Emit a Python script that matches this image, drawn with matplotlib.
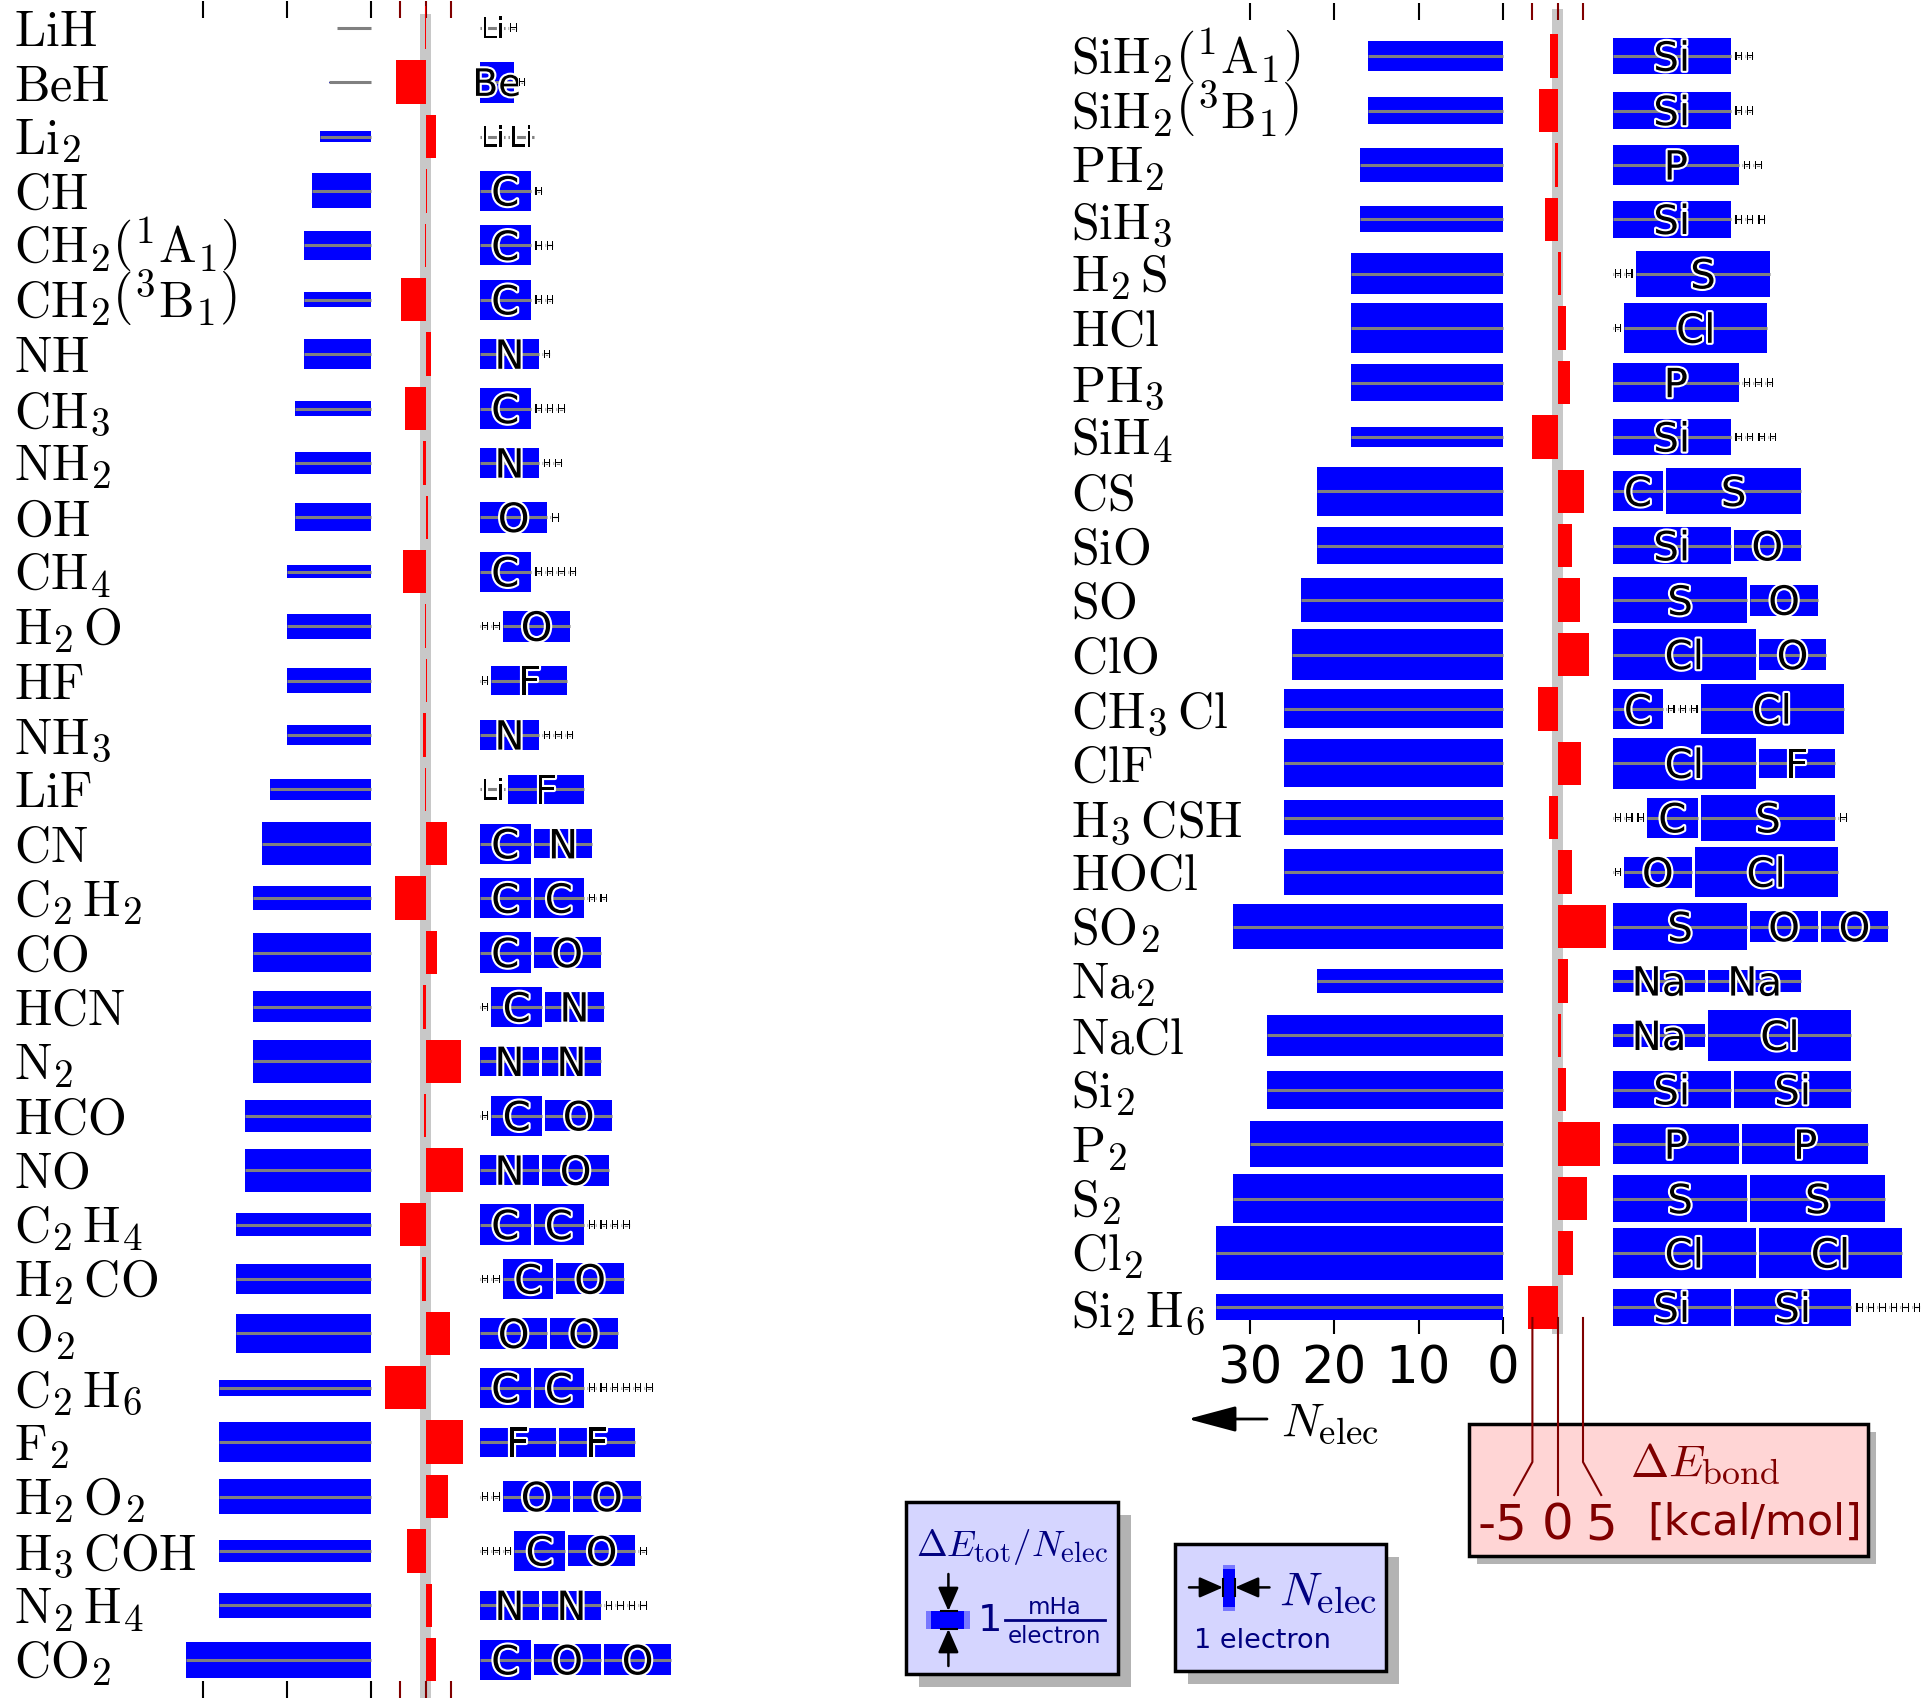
import numpy as np
import matplotlib
matplotlib.use('Agg')
import matplotlib.pyplot as plt
import matplotlib.patheffects as pe
import matplotlib.transforms as mtransforms
from matplotlib.patches import Rectangle, FancyArrowPatch
from matplotlib.lines import Line2D

try:
    import matplotlib._mathtext as _mt
    _mt.SHRINK_FACTOR = 0.78
except Exception:
    pass

plt.rcParams['mathtext.fontset'] = 'cm'
plt.rcParams['font.family'] = ['DejaVu Sans']

# ---------------- data ----------------
left_labels = [r'$\mathrm{LiH}$', r'$\mathrm{BeH}$', r'$\mathrm{Li}_2$', r'$\mathrm{CH}$',
               r'$\mathrm{CH}_2\left({}^1\mathrm{A}_1\right)$', r'$\mathrm{CH}_2\left({}^3\mathrm{B}_1\right)$',
               r'$\mathrm{NH}$', r'$\mathrm{CH}_3$', r'$\mathrm{NH}_2$', r'$\mathrm{OH}$', r'$\mathrm{CH}_4$',
               r'$\mathrm{H}_2\,\mathrm{O}$', r'$\mathrm{HF}$', r'$\mathrm{NH}_3$', r'$\mathrm{LiF}$', r'$\mathrm{CN}$',
               r'$\mathrm{C}_2\,\mathrm{H}_2$', r'$\mathrm{CO}$', r'$\mathrm{HCN}$', r'$\mathrm{N}_2$',
               r'$\mathrm{HCO}$', r'$\mathrm{NO}$', r'$\mathrm{C}_2\,\mathrm{H}_4$', r'$\mathrm{H}_2\,\mathrm{CO}$',
               r'$\mathrm{O}_2$', r'$\mathrm{C}_2\,\mathrm{H}_6$', r'$\mathrm{F}_2$', r'$\mathrm{H}_2\,\mathrm{O}_2$',
               r'$\mathrm{H}_3\,\mathrm{COH}$', r'$\mathrm{N}_2\,\mathrm{H}_4$', r'$\mathrm{CO}_2$']
left_comp = ["Li H", "Be H", "Li Li", "C H", "C H H", "C H H", "N H", "C H H H", "N H H", "O H",
             "C H H H H", "H H O", "H F", "N H H H", "Li F", "C N", "C C H H", "C O", "H C N", "N N",
             "H C O", "N O", "C C H H H H", "H H C O", "O O", "C C H H H H H H", "F F", "H H O O",
             "H H H C O H", "N N H H H H", "C O O"]
left_nelec = [4, 5, 6, 7, 8, 8, 8, 9, 9, 9, 10, 10, 10, 10, 12, 13, 14, 14, 14, 14, 15, 15,
              16, 16, 16, 18, 18, 18, 18, 18, 22]
left_dEtot = [0.0, 0.05, 0.59, 2.01, 1.67, 0.83, 1.67, 0.83, 1.24, 1.61, 0.71, 1.42, 1.46, 1.11,
              1.21, 2.44, 1.39, 2.23, 1.77, 2.45, 1.83, 2.45, 1.33, 1.73, 2.23, 0.90, 2.29, 1.95,
              1.27, 1.42, 2.04]
left_dEbond = [-0.2, -5.9, 2.1, 0.3, -0.2, -4.9, 1.0, -4.1, -0.6, 0.4, -4.5, -0.2, 0.2, -0.6,
               -0.2, 4.2, -6.1, 2.2, -0.6, 6.9, -0.4, 7.3, -5.1, -0.7, 4.8, -8.1, 7.3, 4.4, -3.7,
               1.2, 2.1]

right_labels = [r'$\mathrm{SiH}_2\left({}^1\mathrm{A}_1\right)$', r'$\mathrm{SiH}_2\left({}^3\mathrm{B}_1\right)$',
                r'$\mathrm{PH}_2$', r'$\mathrm{SiH}_3$', r'$\mathrm{H}_2\,\mathrm{S}$', r'$\mathrm{HCl}$',
                r'$\mathrm{PH}_3$', r'$\mathrm{SiH}_4$', r'$\mathrm{CS}$', r'$\mathrm{SiO}$', r'$\mathrm{SO}$',
                r'$\mathrm{ClO}$', r'$\mathrm{CH}_3\,\mathrm{Cl}$', r'$\mathrm{ClF}$', r'$\mathrm{H}_3\,\mathrm{CSH}$',
                r'$\mathrm{HOCl}$', r'$\mathrm{SO}_2$', r'$\mathrm{Na}_2$', r'$\mathrm{NaCl}$', r'$\mathrm{Si}_2$',
                r'$\mathrm{P}_2$', r'$\mathrm{S}_2$', r'$\mathrm{Cl}_2$', r'$\mathrm{Si}_2\,\mathrm{H}_6$']
right_comp = ["Si H H", "Si H H", "P H H", "Si H H H", "H H S", "H Cl", "P H H H", "Si H H H H",
              "C S", "Si O", "S O", "Cl O", "C H H H Cl", "Cl F", "H H H C S H", "H O Cl", "S O O",
              "Na Na", "Na Cl", "Si Si", "P P", "S S", "Cl Cl", "Si Si H H H H H H"]
right_nelec = [16, 16, 17, 17, 18, 18, 18, 18, 22, 22, 24, 25, 26, 26, 26, 26, 32, 22, 28, 28,
               30, 32, 34, 34]
right_dEtot = [1.71, 1.50, 1.97, 1.50, 2.32, 2.88, 2.07, 1.17, 2.83, 2.14, 2.55, 2.88, 2.23, 2.73,
               2.02, 2.61, 2.58, 1.40, 2.33, 2.16, 2.66, 2.85, 3.08, 1.47]
right_dEbond = [-1.5, -3.7, -0.5, -2.5, 0.6, 1.6, 2.4, -5.1, 5.1, 2.9, 4.4, 6.1, -3.9, 4.7, -1.7,
                2.9, 9.5, 2.1, 0.6, 1.6, 8.3, 5.7, 3.1, -5.9]

elements = ['H', 'Li', 'Be', 'C', 'N', 'O', 'F', 'Na', 'Si', 'P', 'S', 'Cl']
elem_nelec = [1, 3, 4, 6, 7, 8, 9, 11, 14, 15, 16, 17]
elem_dEtot = [0.0, 0.0, 2.35, 2.30, 1.69, 1.77, 1.65, 1.29, 2.09, 2.27, 2.63, 2.89]

nelec_ticks_left = [0, 10, 20]
nelec_ticks_right = [0, 10, 20, 30]
bond_ticks = [-5, 0, 5]

# ---------------- layout ----------------
W, H, DPI = 1923, 1699, 100
ROW = 54.4      # px per row
PXE = 8.42      # px per electron
PXK = 5.06      # px per kcal/mol
PXM = 17.5      # px per mHa/electron
GAP = 0.36      # gap between atoms (electrons)
BLUE, GRAY, BAND = '#0000ff', '#808080', '#c8c8c8'
DRED, NAVY, RED = '#800000', '#000080', '#ff0000'

fig = plt.figure(figsize=(W / DPI, H / DPI), dpi=DPI)
fig.patch.set_facecolor('white')


def fx(x):
    return x / W


def fy(y):
    return 1 - y / H


def make_ax(x0, x1, y0, y1, xlim, row0):
    ax = fig.add_axes([x0 / W, 1 - y1 / H, (x1 - x0) / W, (y1 - y0) / H])
    ax.set_xlim(*xlim)
    ax.set_ylim((y1 - row0) / ROW, (y0 - row0) / ROW)
    ax.patch.set_visible(False)
    for s in ax.spines.values():
        s.set_visible(False)
    ax.set_xticks([])
    ax.set_yticks([])
    return ax


elem_Z = dict(zip(elements, elem_nelec))
elem_E = dict(zip(elements, elem_dEtot))


def draw_panel(labels, comps, nelec, dEtot, dEbond, row0, y0, y1, zeroN, zeroK, comp0,
               label_x, nticks, show_nlabels, bottom_bond, band_top):
    rows = np.arange(len(labels))
    # ---- N_elec bars ----
    xa = zeroN - 330
    axN = make_ax(xa, zeroN + 4, y0, y1, ((zeroN - xa) / PXE, -4 / PXE), row0)
    axN.barh(rows, nelec, height=np.array(dEtot) * PXM / ROW, left=0, color=BLUE,
             lw=0, zorder=2)
    axN.hlines(rows, 0, nelec, color=GRAY, lw=2.2, zorder=3)
    axN.set_xticks(nticks)
    axN.tick_params(axis='x', direction='in', length=12.2, width=1.5, top=True, bottom=True,
                    labeltop=False, labelbottom=show_nlabels, labelsize=37, pad=7)
    # ---- labels ----
    tr = (mtransforms.blended_transform_factory(fig.transFigure, axN.transData)
          + mtransforms.ScaledTranslation(0, -36 * 0.683 / 2 / 72, fig.dpi_scale_trans))
    for r, lab in zip(rows, labels):
        axN.text(label_x / W, r, lab, transform=tr, fontsize=36, ha='left', va='baseline')
    # ---- bond energy bars ----
    axK = make_ax(zeroK - 45, zeroK + 55, y0, y1, (-45 / PXK, 55 / PXK), row0)
    band_frac = 1 - (band_top - y0) / (y1 - y0)
    axK.axvspan(-1.05, 1.05, ymin=0, ymax=band_frac, color=BAND, lw=0, zorder=0)
    axK.barh(rows, dEbond, height=0.8, left=0, color=RED, lw=0, zorder=2)
    axK.set_xticks(bond_ticks)
    axK.tick_params(axis='x', direction='in', length=12.2, width=1.5, color=DRED, top=True,
                    bottom=bottom_bond, labeltop=False, labelbottom=False)
    # ---- atomic composition ----
    axC = make_ax(comp0 - 10, W, y0, y1, (-10 / PXE, (W - comp0) / PXE), row0)
    for r, comp in zip(rows, comps):
        x = 0.0
        for sym in comp.split():
            z, e = elem_Z[sym], elem_E[sym]
            if e > 0:
                axC.barh(r, z, left=x, height=e * PXM / ROW, color=BLUE, lw=0, zorder=2)
            axC.hlines(r, x, x + z, color=GRAY, lw=2.2, zorder=3)
            fs = min(29, 6.8 * z) if z > 1 else 8.5
            trt = axC.transData + mtransforms.ScaledTranslation(0, -fs * 0.729 / 2 / 72,
                                                                fig.dpi_scale_trans)
            axC.text(x + z / 2 + (0.1 if z == 1 else 0), r, sym, transform=trt, ha='center',
                     va='baseline', fontsize=fs, zorder=4, color='black',
                     path_effects=[pe.withStroke(linewidth=3 if z > 1 else 1.2,
                                                 foreground='white')])
            x += z + GAP
    return axN, axK, axC


draw_panel(left_labels, left_comp, left_nelec, left_dEtot, left_dEbond, row0=28.7, y0=2, y1=1699,
           zeroN=371, zeroK=425.7, comp0=480, label_x=14, nticks=nelec_ticks_left,
           show_nlabels=False, bottom_bond=True, band_top=14.6)
axNR, axKR, axCR = draw_panel(right_labels, right_comp, right_nelec, right_dEtot, right_dEbond,
                              row0=57.1, y0=4, y1=1335, zeroN=1502.7, zeroK=1557.7, comp0=1612.7,
                              label_x=1071, nticks=nelec_ticks_right, show_nlabels=True,
                              bottom_bond=False, band_top=10)

# ---------------- N_elec axis caption ----------------
fig.add_artist(FancyArrowPatch((fx(1267), fy(1420)), (fx(1188), fy(1420)), transform=fig.transFigure,
                               arrowstyle='-|>,head_length=0.75,head_width=0.2', mutation_scale=40,
                               color='black', lw=2, shrinkA=0, shrinkB=0))
fig.text(fx(1281), fy(1436), r'$N_{\mathrm{elec}}$', fontsize=34, ha='left', va='baseline')


# ---------------- legend boxes ----------------
def box(x0, y0, x1, y1, fc, off):
    fig.add_artist(Rectangle((fx(x0 + off), fy(y1 + off)), (x1 - x0) / W, (y1 - y0) / H,
                             transform=fig.transFigure, facecolor='#b3b3b3', edgecolor='none',
                             zorder=1))
    fig.add_artist(Rectangle((fx(x0), fy(y1)), (x1 - x0) / W, (y1 - y0) / H,
                             transform=fig.transFigure, facecolor=fc, edgecolor='black', lw=2.5,
                             zorder=2))


def arrow(a, b, c, d, ms=18):
    fig.add_artist(FancyArrowPatch((fx(a), fy(b)), (fx(c), fy(d)), transform=fig.transFigure,
                                   arrowstyle='-|>,head_length=0.8,head_width=0.35',
                                   mutation_scale=ms, color='black', lw=1.8, shrinkA=0,
                                   shrinkB=0, zorder=5))


def fline(xs, ys, color='black', lw=1.5):
    fig.add_artist(Line2D([fx(v) for v in xs], [fy(v) for v in ys], transform=fig.transFigure,
                          color=color, lw=lw, zorder=5))


def frect(x0, y0, x1, y1, color):
    fig.add_artist(Rectangle((fx(x0), fy(y1)), (x1 - x0) / W, (y1 - y0) / H,
                             transform=fig.transFigure, facecolor=color, edgecolor='none',
                             zorder=4))


# box 1 : Delta E_tot / N_elec
box(906, 1503, 1118, 1675, '#d5d5ff', 13)
fig.text(fx(1012), fy(1556), r'$\Delta E_{\mathrm{tot}}/N_{\mathrm{elec}}$', fontsize=26.5,
         color=NAVY, ha='center', va='baseline', zorder=6)
frect(925.6, 1612, 969.5, 1630, '#7878ff')
frect(931, 1612, 964, 1630, BLUE)
arrow(948.4, 1575, 948.4, 1612)
arrow(948.4, 1667, 948.4, 1630)
fline([941, 957], [1612, 1612])
fline([941, 957], [1630, 1630])
fig.text(fx(990), fy(1621), '1', fontsize=27.5, color=NAVY, ha='center', va='center', zorder=6)
fline([1004.6, 1104.6], [1621, 1621], color=NAVY, lw=2)
fig.text(fx(1054.6), fy(1614), 'mHa', fontsize=16.5, color=NAVY, ha='center', va='baseline',
         zorder=6)
fig.text(fx(1054.6), fy(1643), 'electron', fontsize=16.5, color=NAVY, ha='center',
         va='baseline', zorder=6)

# box 2 : N_elec
box(1175, 1545, 1386, 1672, '#d5d5ff', 13)
frect(1223, 1565.6, 1235, 1612.3, '#7878ff')
frect(1223, 1570, 1235, 1608, BLUE)
arrow(1189, 1588.4, 1223, 1588.4)
arrow(1269.5, 1588.4, 1235, 1588.4)
fline([1223, 1223], [1580, 1597])
fline([1235, 1235], [1580, 1597])
fig.text(fx(1279), fy(1605), r'$N_{\mathrm{elec}}$', fontsize=34, color=NAVY, ha='left',
         va='baseline', zorder=6)
fig.text(fx(1194), fy(1648), '1 electron', fontsize=19.5, color=NAVY, ha='left', va='baseline',
         zorder=6)

# box 3 : Delta E_bond
box(1469, 1425, 1868, 1557, '#ffd5d5', 8)
btr = mtransforms.blended_transform_factory(axKR.transData, fig.transFigure)
for t in bond_ticks:
    tx = t * 1.72
    fig.add_artist(Line2D([t, t, tx], [fy(1319), fy(1463), fy(1496)], transform=btr,
                          color=DRED, lw=1.5, zorder=5))
    if t < 0:
        ttr = btr + mtransforms.ScaledTranslation(13 / DPI, 0, fig.dpi_scale_trans)
        fig.text(tx, fy(1540), str(t), transform=ttr, fontsize=36, color=DRED, ha='right',
                 va='baseline', zorder=6)
    else:
        fig.text(tx, fy(1540), str(t), transform=btr, fontsize=36, color=DRED, ha='center',
                 va='baseline', zorder=6)
fig.text(fx(1630), fy(1477), r'$\Delta E_{\mathrm{bond}}$', fontsize=33, color=DRED, ha='left',
         va='baseline', zorder=6)
fig.text(fx(1647), fy(1535), '[kcal/mol]', fontsize=31, color=DRED, ha='left', va='baseline',
         zorder=6)

fig.savefig('out.png', dpi=DPI, facecolor='white')
